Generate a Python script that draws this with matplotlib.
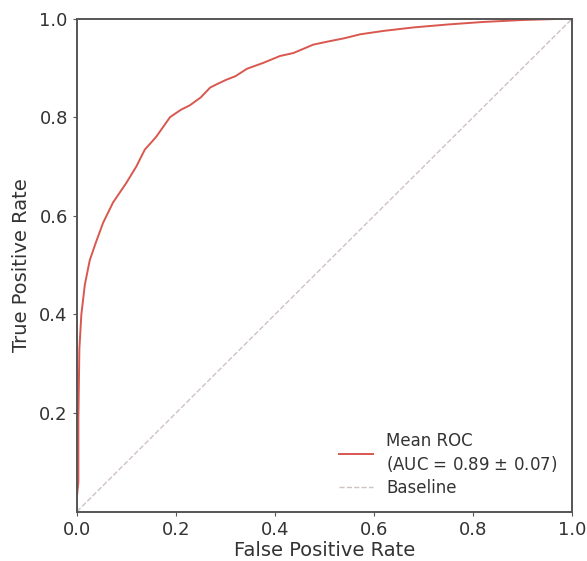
import numpy as np
import matplotlib
matplotlib.use('Agg')
import matplotlib.pyplot as plt

# mean ROC curve
fpr = [0.0, 0.0, 0.003, 0.003, 0.005, 0.009, 0.016, 0.026, 0.038, 0.053, 0.073, 0.1, 0.12,
       0.137, 0.16, 0.188, 0.21, 0.228, 0.25, 0.269, 0.285, 0.302, 0.32, 0.343,
       0.376, 0.41, 0.437, 0.477, 0.505, 0.54, 0.572, 0.62, 0.68, 0.75, 0.82, 0.9, 1.0]
tpr = [0.0, 0.03, 0.06, 0.19, 0.33, 0.40, 0.46, 0.51, 0.545, 0.586, 0.627, 0.667, 0.70,
       0.734, 0.76, 0.80, 0.815, 0.824, 0.84, 0.86, 0.868, 0.876, 0.883, 0.898,
       0.91, 0.924, 0.93, 0.947, 0.953, 0.96, 0.968, 0.975, 0.982, 0.988, 0.993, 0.997, 1.0]
mean_auc, std_auc = 0.89, 0.07

plt.rcParams['text.color'] = '#333333'
plt.rcParams['axes.labelcolor'] = '#333333'
plt.rcParams['xtick.color'] = '#333333'
plt.rcParams['ytick.color'] = '#333333'

fig, ax = plt.subplots(figsize=(5.87, 5.61), dpi=100)
fig.subplots_adjust(left=0.131, right=0.975, top=0.967, bottom=0.088)

ax.plot(fpr, tpr, color='#d9574f', lw=1.4,
        label=f'Mean ROC\n(AUC = {mean_auc:.2f} $\\pm$ {std_auc:.2f})')
ax.plot([0, 1], [0, 1], linestyle='--', color='#cfc2c0', lw=1, label='Baseline')

ax.set_xlim(0, 1)
ax.set_ylim(0, 1)
ax.set_xticks([0.0, 0.2, 0.4, 0.6, 0.8, 1.0])
ax.set_yticks([0.2, 0.4, 0.6, 0.8, 1.0])
ax.tick_params(labelsize=13, length=3, color='#555555')
ax.set_xlabel('False Positive Rate', fontsize=14, labelpad=2)
ax.set_ylabel('True Positive Rate', fontsize=14, labelpad=6)
for s in ax.spines.values():
    s.set_color('#555555')
    s.set_linewidth(1.4)

ax.legend(loc='lower right', frameon=False, fontsize=12, labelspacing=0.3)

plt.savefig('out.png', dpi=100)
